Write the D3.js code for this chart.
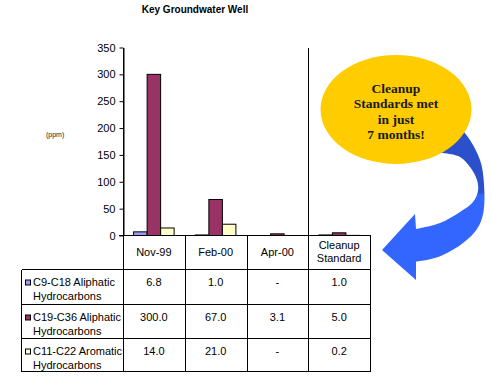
<!DOCTYPE html>
<html><head><meta charset="utf-8">
<script src="https://cdn.jsdelivr.net/npm/d3@7/dist/d3.min.js"></script>
<style>html,body{margin:0;padding:0;background:#fff;} svg{display:block;} text{font-family:Arial,"Liberation Sans",sans-serif;}</style>
</head><body><svg id="c" width="492" height="377"></svg>
<script>
// ---- data ----
const categories = ["Nov-99", "Feb-00", "Apr-00", "Cleanup Standard"];
const seriesNames = ["C9-C18 Aliphatic Hydrocarbons", "C19-C36 Aliphatic Hydrocarbons", "C11-C22 Aromatic Hydrocarbons"];
const c9c18 = [6.8, 1.0, null, 1.0];
const c19c36 = [300.0, 67.0, 3.1, 5.0];
const c11c22 = [14.0, 21.0, null, 0.2];
const yTicks = [0, 50, 100, 150, 200, 250, 300, 350];
const seriesColors = ["#9999FF", "#993366", "#FFFFCC"];
const title = "Key Groundwater Well";
const unitLabel = "(ppm)";
const calloutLines = ["Cleanup", "Standards met", "in just", "7 months!"];

const series = [c9c18, c19c36, c11c22];

const svg = d3.select("#c");
const L = 123, R = 370, T = 47.5, B = 235.5;

const x = d3.scaleBand().domain(categories).range([L, R]);
const x1 = d3.scaleBand().domain(d3.range(series.length)).range([0, x.bandwidth()]).paddingOuter(0.785);
const y = d3.scaleLinear().domain([0, 350]).range([B, T]);

// title
svg.append("text").attr("x", 195).attr("y", 13).attr("text-anchor", "middle")
  .attr("font-size", 10).attr("font-weight", "bold").text(title);
svg.append("text").attr("x", 46).attr("y", 137).attr("font-size", 7).attr("fill", "#222").text(unitLabel);

// arrow (behind callout)
const defs = svg.append("defs");
const g = defs.append("linearGradient").attr("id", "ag").attr("gradientUnits", "userSpaceOnUse")
  .attr("x1", 0).attr("y1", 150).attr("x2", 0).attr("y2", 235);
g.append("stop").attr("offset", 0).attr("stop-color", "#2A50CC");
g.append("stop").attr("offset", 0.5).attr("stop-color", "#2A50CC");
g.append("stop").attr("offset", 0.53).attr("stop-color", "#3366FF");
g.append("stop").attr("offset", 1).attr("stop-color", "#3366FF");

const curve = d3.line().curve(d3.curveCatmullRom);
const outer = [[458,125],[470,140],[480,160],[483.5,178],[483.5,212],[477,229],[463,243],[443,255],[427,260],[416,261.5]];
const inner = [[416,229],[440,223],[460,212],[473,202],[478,191],[477,180],[470,167],[460,157],[443,153],[432,152]];
const head = "L416,280L382,250L415,214";
const arrowPath = curve(outer) + head + curve(inner).replace(/^M/, "L") + "Z";
svg.append("path").attr("d", arrowPath).attr("fill", "url(#ag)");

// callout ellipse
svg.append("ellipse").attr("cx", 396).attr("cy", 109.5).attr("rx", 75.5).attr("ry", 54.5).attr("fill", "#FFCC00");
calloutLines.forEach((t, i) => {
  svg.append("text").attr("x", 396).attr("y", 92.5 + i * 15.6).attr("text-anchor", "middle")
    .attr("font-size", 13.5).attr("font-weight", "bold").attr("fill", "#1a1a1a")
    .style("font-family", "'Times New Roman','Liberation Serif',serif").text(t);
});

// bars
categories.forEach((c, ci) => {
  series.forEach((s, si) => {
    const v = s[ci];
    if (v == null) return;
    svg.append("rect")
      .attr("x", x(c) + x1(si)).attr("width", x1.bandwidth())
      .attr("y", y(v)).attr("height", Math.max(0, y(0) - y(v)))
      .attr("fill", seriesColors[si]).attr("stroke", "#000").attr("stroke-width", 1);
  });
});

// y axis
const ax = svg.append("g").attr("transform", `translate(${L + 0.5},0)`)
  .call(d3.axisLeft(y).tickValues(yTicks).tickSize(4).tickSizeOuter(0).tickPadding(4));
ax.selectAll("text").attr("font-size", 11).attr("fill", "#000").style("font-family", "Arial,'Liberation Sans',sans-serif");
ax.selectAll("line,path").attr("stroke", "#000");

// table
const rowTops = [235.5, 269.5, 304.5, 338.5, 371.5];
const tbl = svg.append("g").attr("stroke", "#000").attr("stroke-width", 1).attr("shape-rendering", "crispEdges");
const colEdges = categories.map(c => Math.round(x(c)) + 0.5).concat([Math.round(R) + 0.5]);
// horizontal lines
tbl.append("line").attr("x1", 119).attr("x2", colEdges[4]).attr("y1", rowTops[0]).attr("y2", rowTops[0]);
rowTops.slice(1).forEach(ry => tbl.append("line").attr("x1", 21.5).attr("x2", colEdges[4]).attr("y1", ry).attr("y2", ry));
// vertical lines
tbl.append("line").attr("x1", 21.5).attr("x2", 21.5).attr("y1", rowTops[1]).attr("y2", rowTops[4]);
colEdges.forEach((cx, i) => {
  const top = (i === 0) ? T : (i === 3 ? T : rowTops[0]);
  tbl.append("line").attr("x1", cx).attr("x2", cx).attr("y1", top).attr("y2", rowTops[4]);
});

// header text
const tx = svg.append("g").attr("font-size", 11).attr("fill", "#000");
categories.forEach(c => {
  const cx = x(c) + x.bandwidth() / 2;
  if (c === "Cleanup Standard") {
    tx.append("text").attr("x", cx).attr("y", 248.5).attr("text-anchor", "middle").text("Cleanup");
    tx.append("text").attr("x", cx).attr("y", 262).attr("text-anchor", "middle").text("Standard");
  } else {
    tx.append("text").attr("x", cx).attr("y", 255.5).attr("text-anchor", "middle").text(c);
  }
});
// rows
series.forEach((s, si) => {
  const top = rowTops[si + 1];
  svg.append("rect").attr("x", 25.5).attr("y", top + 10.5).attr("width", 5).attr("height", 5)
    .attr("fill", seriesColors[si]).attr("stroke", "#000").attr("stroke-width", 1);
  const words = seriesNames[si].split(" ");
  tx.append("text").attr("x", 33).attr("y", top + 16).text(words.slice(0, 2).join(" "));
  tx.append("text").attr("x", 33).attr("y", top + 30.5).text(words.slice(2).join(" "));
  categories.forEach((c, ci) => {
    const v = s[ci];
    tx.append("text").attr("x", x(c) + x.bandwidth() / 2).attr("y", top + 16).attr("text-anchor", "middle")
      .text(v == null ? "-" : v.toFixed(1));
  });
});
</script></body></html>
